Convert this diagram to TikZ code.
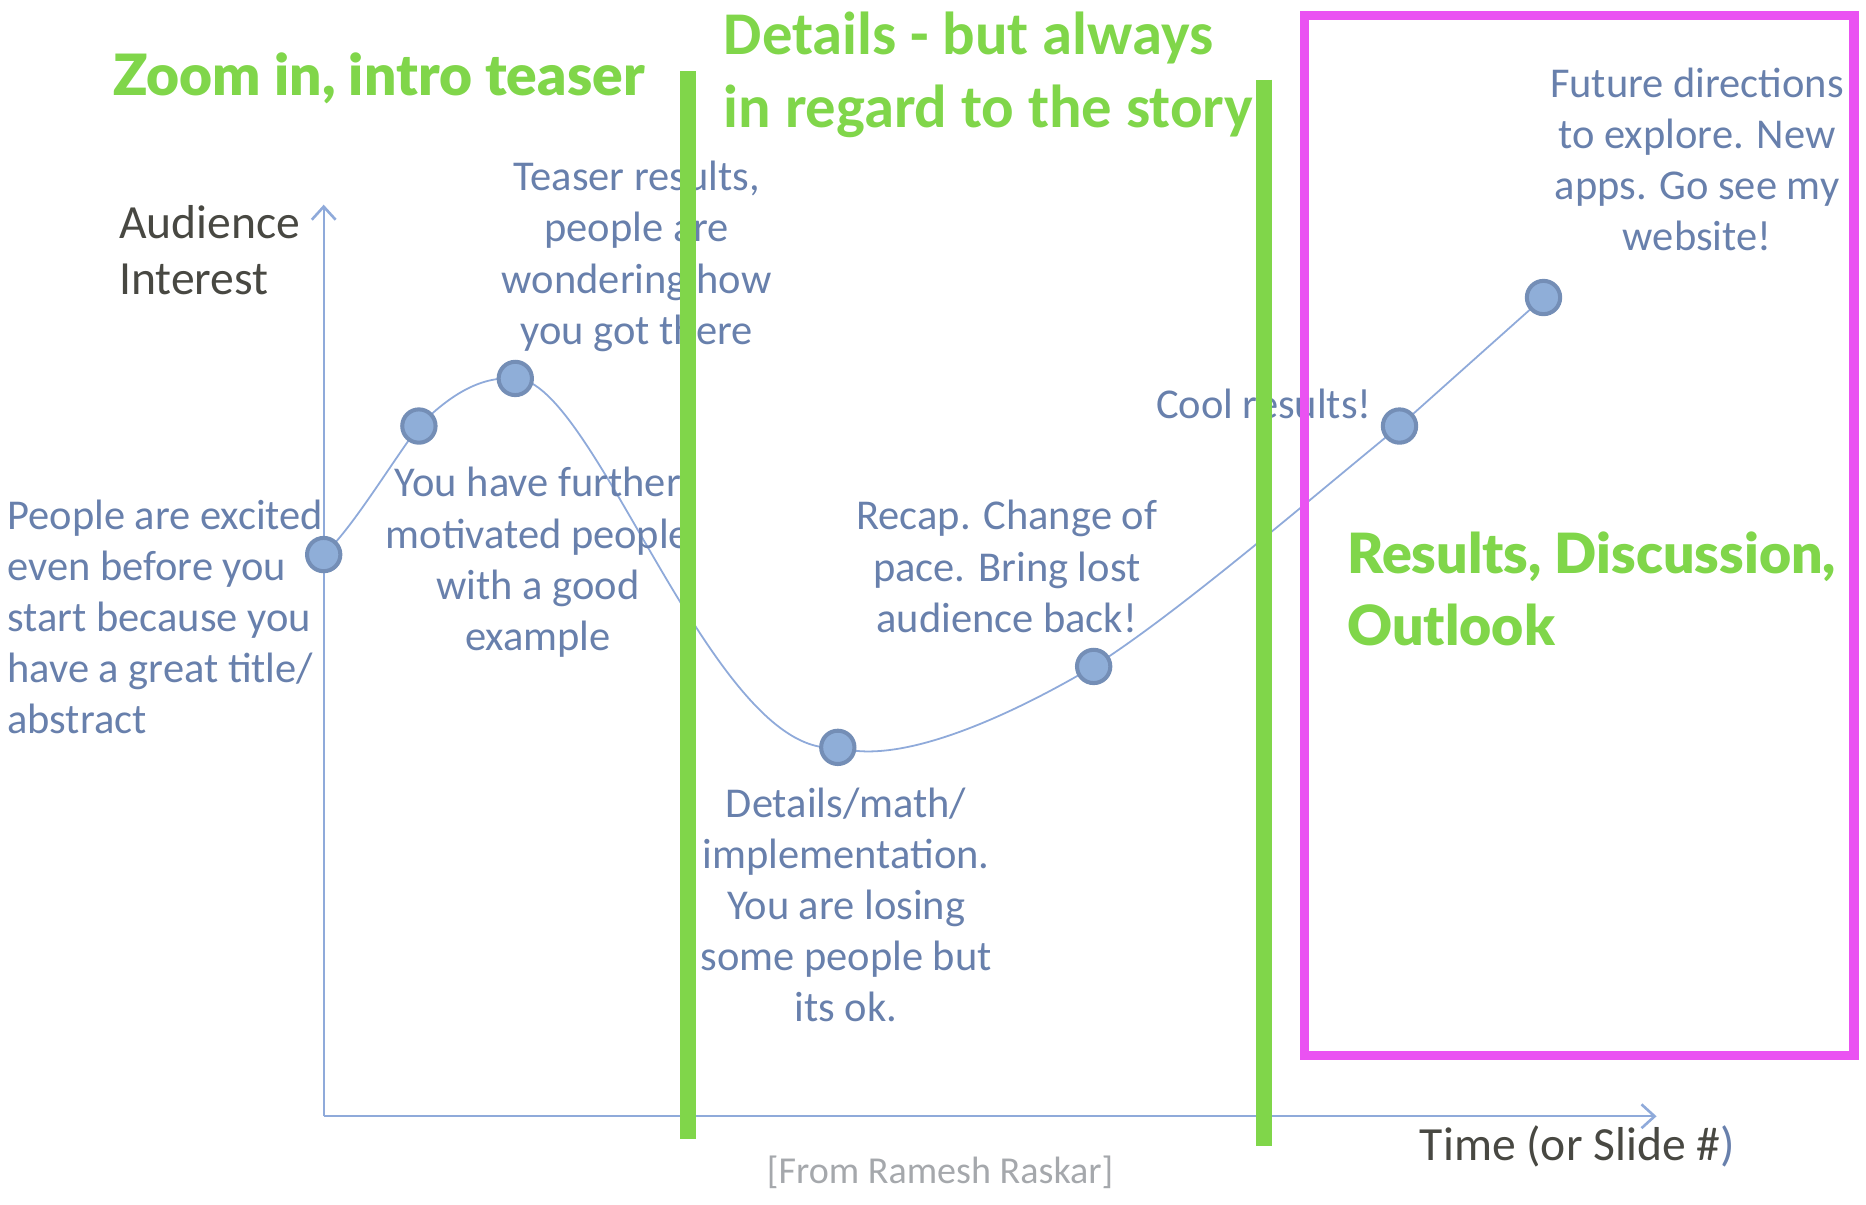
\documentclass[tikz,border=0pt]{standalone}
\usepackage{fontspec}
\setmainfont{Carlito}
\IfFontExistsTF{Lato Black}
  {\newfontfamily\heavyfont{Lato Black}}
  {\newfontfamily\heavyfont{DejaVu Sans Bold}[FakeStretch=0.8]}
\usetikzlibrary{arrows.meta,backgrounds}

\definecolor{txtblue}{RGB}{104,128,172}
\definecolor{curveblue}{RGB}{143,170,218}
\definecolor{dotfill}{RGB}{143,174,216}
\definecolor{dotedge}{RGB}{116,142,182}
\definecolor{barg}{RGB}{128,214,74}
\definecolor{magbox}{RGB}{234,82,242}
\definecolor{darkgray}{RGB}{72,72,66}
\definecolor{credit}{RGB}{165,168,172}

\begin{document}
\begin{tikzpicture}[x=1pt,y=-1pt,
  body/.style={text=txtblue, font=\fontsize{35.7}{43}\selectfont, align=center, inner sep=0pt},
  axislbl/.style={text=darkgray, font=\fontsize{40}{47}\selectfont, align=left, inner sep=0pt},
  headv/.style={text=barg, font=\heavyfont\fontsize{#1}{60}\selectfont, align=left, inner sep=0pt},
  headc/.style={text=barg, font=\bfseries\fontsize{51}{61}\selectfont, align=left, inner sep=0pt},
  axisline/.style={draw=curveblue, line width=1.8pt, -{Straight Barb[length=11pt,width=20pt,line width=2.2pt]}},
  curveline/.style={draw=curveblue, line width=1.5pt},
  dot/.style={circle, fill=dotfill, draw=dotedge, line width=3.4pt, minimum size=28pt, inner sep=0pt},
  bar/.style={draw=barg, line width=14pt},
  mbox/.style={draw=magbox, line width=8pt}
]
\useasboundingbox (0,0) rectangle (1568,1012);

% axes
\coordinate (O) at (272,938);
\coordinate (ytip) at (272,172);
\coordinate (xtip) at (1392,938);
\draw[axisline] (O) -- (ytip);
\draw[axisline] (O) -- (xtip);

% points
\node[dot] (p1) at (272,466) {};
\node[dot] (p2) at (352,358) {};
\node[dot] (p3) at (433,318) {};
\node[dot] (p4) at (704,628) {};
\node[dot] (p5) at (919,560) {};
\node[dot] (p6) at (1176,358) {};
\node[dot] (p7) at (1297,250) {};

\begin{scope}[on background layer]
\draw[curveline] (p1.center) .. controls (295,445) and (325,395) .. (p2.center)
  .. controls (380,330) and (405,316) .. (p3.center)
  .. controls (500,318) and (600,640) .. (p4.center)
  .. controls (760,645) and (860,595) .. (p5.center)
  .. controls (990,515) and (1100,420) .. (p6.center)
  -- (p7.center);
\end{scope}

% texts
\node[body, align=left, anchor=west] (tstart) at (6,518.5)
  {People are excited\\even before you\\start because you\\have a great title/\\abstract};
\node[body] (tteaser) at (535,215.5) {Teaser results,\\people are\\wondering how\\you got there};
\node[body] (tfurther) at (452,472.5) {You have further\\motivated people\\with a good\\example};
\node[body] (tdetails) at (711,760.5) {Details/math/\\implementation.\\You are losing\\some people but\\its ok.};
\node[body] (trecap) at (846,476) {Recap. Change of\\pace. Bring lost\\audience back!};
\node[body] (tcool) at (1062,339) {Cool results!};
\node[body] (tfuture) at (1426,134) {Future directions\\to explore. New\\apps. Go see my\\website!};

\node[axislbl, anchor=west] (ylbl) at (100,210) {Audience\\Interest};
\node[axislbl, anchor=west] (xlbl) at (1193,963) {Time (or Slide \#\textcolor{txtblue}{)}};
\node[text=credit, font=\fontsize{32}{38}\selectfont, inner sep=0pt] (credit) at (790,985) {[From Ramesh Raskar]};

% headings
\node[headv=47.8, anchor=west] (hzoom) at (95,66) {Zoom in, intro teaser};
\node[headc, anchor=west] (hdetails) at (608,63) {Details - but always\\in regard to the story};
\node[headv=46.6, anchor=west] (hresults) at (1132,495) {Results, Discussion,\\Outlook};

% bars and box
\coordinate (b1t) at (578,60);
\coordinate (b1b) at (578,957);
\coordinate (b2t) at (1062,67);
\coordinate (b2b) at (1062,963);
\draw[bar] (b1t) -- (b1b);
\draw[bar] (b2t) -- (b2b);
\coordinate (mb1) at (1096,13);
\coordinate (mb2) at (1558,887);
\draw[mbox] (mb1) rectangle (mb2);
\end{tikzpicture}
\end{document}
